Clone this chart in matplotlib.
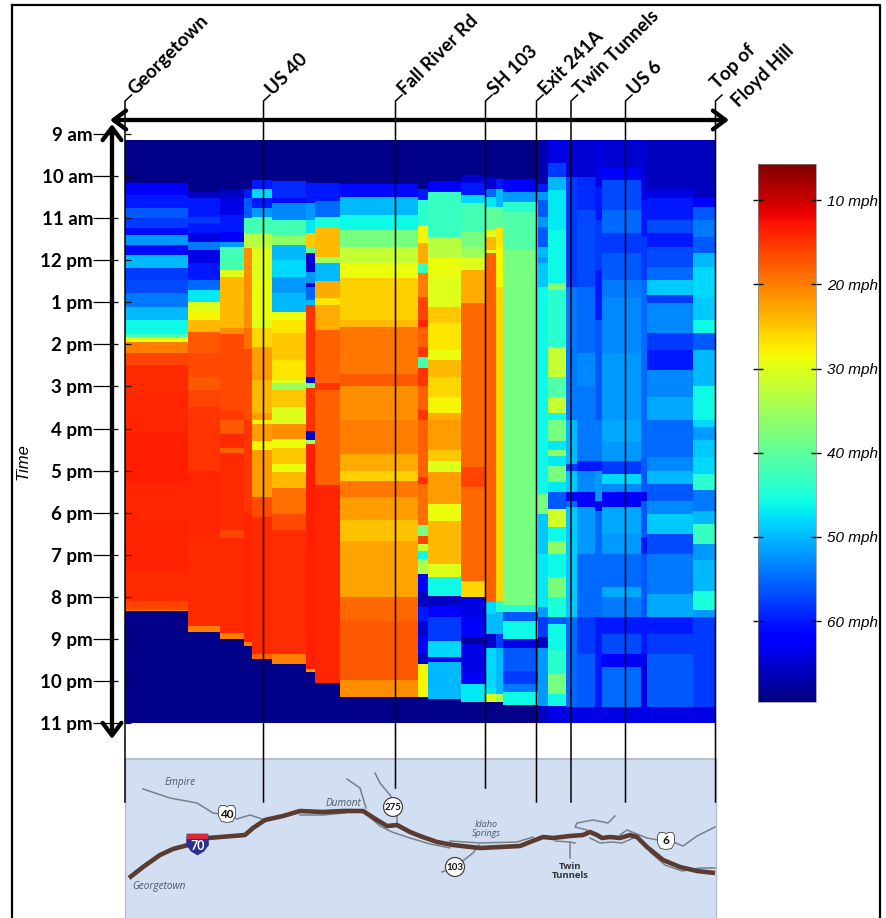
import matplotlib
matplotlib.use("Agg")
import matplotlib.pyplot as plt
import numpy as np
from matplotlib.patches import Polygon, Circle, Rectangle

W, H = 886, 918
SPEED_MIN, SPEED_MAX = 5.7, 69.6
T0 = 9.15
T1 = 23.0

# Segment edges along the corridor (same units as the picture width of the heat map)
segment_edges = [0, 63, 95, 119, 127, 147, 181, 190, 215, 293, 303, 336, 360, 371, 378,
                 413, 423, 441, 452, 470, 477, 516, 522, 568, 591]

# Each segment: start hour of every run and its speed in mph
c00_t = [T0,10.17,10.45,10.77,11.0,11.24,11.4,11.64,11.88,12.19,12.47,12.79,13.1,13.42,13.75,13.82,13.94,14.2,14.5,15.2,16.1,17.3,18.2,19.4,20.1,20.3,20.33]
c00_v = [69,62,60,56,58,61,52,61,50,58,57,54,50,46,42,29,20,16,14.2,14,13.6,14,13.7,14.2,16,20,69]
c01_t = [T0,10.37,10.53,10.97,11.12,11.36,11.56,11.76,12.07,12.47,12.7,13.0,13.22,13.42,13.7,14.2,14.77,15.08,15.48,17.0,18.5,20.69,20.82]
c01_v = [69,66,60,58,60,64,54,64,60,55,47,30,28,24,17.5,16.5,17.5,16,15,14,14.3,20,69]
c02_t = [T0,10.33,10.53,10.93,11.33,11.56,11.68,12.24,12.4,13.6,13.75,15.55,15.8,16.13,16.45,16.57,18.4,18.6,20.85,21.0]
c02_v = [69,66,64,60,63,52,42,30,24,21,16.5,15.5,17.5,14.2,18,14.2,16,14.2,20,69]
c03_t = [T0,10.3,10.53,11.0,11.35,11.7,13.6,14.1,15.8,18.0,21.08,21.16]
c03_v = [69,60,56,42,33,21,19,16.5,15,14,20,69]
c04_t = [T0,10.1,10.3,10.53,10.77,10.97,11.36,11.68,12.47,13.42,13.62,14.05,14.85,15.64,15.8,15.9,16.3,16.52,17.63,18.1,21.35,21.48]
c04_v = [69,60,48,60,52,42,33,30,29,30,26,22,24,22,28,22,28,22,16.5,14.2,18,69]
c05_t = [T0,10.13,10.53,10.65,11.05,11.4,11.64,12.0,12.4,12.79,13.22,13.42,13.74,14.37,14.85,14.92,15.08,15.48,15.9,16.25,16.45,16.84,17.04,17.4,18.03,18.42,21.35,21.58]
c05_v = [69,59,61,53,42,36,50,48,52,50,29,27,25,27,30,35,25,30,21,29,25,29,24,19,16.5,14.5,20,69]
c06_t = [T0,10.17,10.65,11.05,11.36,11.68,11.84,12.27,12.55,12.63,12.95,13.06,14.77,14.92,15.04,16.05,16.28,16.36,21.72,21.79]
c06_v = [69,60,52,47,25,40,65,52,65,55,50,15,65,38,15,66,35,13.5,22,69]
c07_t = [T0,10.17,10.6,10.97,11.24,11.92,12.07,12.5,12.9,13.06,13.66,14.92,15.08,17.35,22.05]
c07_v = [69,60,55,45,24,35,50,23,27,23,18,15,18,14,69]
c08_t = [T0,10.2,10.5,10.93,11.28,11.68,12.07,12.43,13.42,13.58,14.7,15.0,15.8,16.6,17.0,17.24,17.63,18.18,18.66,20.0,20.56,21.98,22.38]
c08_v = [69,61,50,46,38,32,29,25.5,24,19.5,17.5,21,20,23,25.5,19.5,22,24.5,22.5,18.5,17.5,21,69]
c09_t = [T0,10.3,10.57,11.16,11.6,12.07,12.31,12.87,13.42,13.58,14.05,14.29,14.57,15.0,15.56,15.8,17.16,17.32,18.3,18.54,18.74,18.9,19.1,19.21,19.45,19.89,20.24,20.56,20.96,21.35,21.59,22.38]
c09_v = [69,60,44,28,23,43,20,16,14,18,15,42,15,18,15,18,14.5,19,38,16,32,46,35,34,63,66,60,65,62,66,28,69]
c10_t = [T0,10.13,10.37,11.44,11.92,12.4,13.1,13.5,14.13,14.37,14.77,15.25,15.64,15.8,16.52,16.76,17.04,17.79,18.19,19.21,19.53,19.97,20.2,20.48,21.04,21.43,21.55,22.42]
c10_v = [69,62,43,33,29,30,25,27,29,24,26,28,23,22,25,30,22,29,24,30,46,66,62,58,48,62,50,69]
c11_t = [T0,9.98,10.17,10.45,10.65,11.32,11.68,11.92,12.23,13.02,16.92,17.39,19.61,20.0,20.48,20.96,21.12,21.83,22.07,22.5]
c11_v = [69,65,60,48,42,38,35,30,23,18.5,16,18.5,26,64,62,68,64,62,47,69]
c12_t = [T0,10.02,10.3,10.49,10.73,11.28,11.44,11.76,11.84,20.12,20.4,20.88,21.2,22.15,22.3,22.5]
c12_v = [69,65,55,47,40,30,24,30,18,48,50,65,48,47,30,69]
c13_t = [T0,10.06,10.3,10.73,11.24,11.68,12.63,20.1,20.36,20.88,21.2,22.3,22.5]
c13_v = [69,60,50,40,27,28,26,44,50,58,50,34,69]
c14_t = [T0,10.06,10.37,10.61,10.85,11.76,20.2,20.36,20.56,21.0,21.2,21.75,22.07,22.26,22.56]
c14_v = [69,62,52,44,41,38,44,56,46,64,56,58,54,46,69]
c15_t = [T0,10.2,10.37,10.57,10.97,11.2,11.68,11.92,12.07,12.63,17.55,18.03,18.98,20.24,20.48,20.96,21.2,22.58]
c15_v = [67,60,52,56,52,56,50,52,49,46,38,49,47,52,58,66,52,66]
c16_t = [T0,9.7,10.02,10.33,11.28,12.55,12.71,14.05,14.77,15.25,15.64,15.8,16.3,16.5,16.64,16.88,17.27,17.5,17.9,18.34,18.66,18.98,19.53,20.0,20.48,20.64,21.27,21.83,22.3,22.58]
c16_v = [64,58,50,47,46,37,44,32,41,32,46,38,47,36,47,38,47,56,31,46,36,46,38,45,56,46,44,38,46,64]
c17_t = [T0,10.02,12.63,15.8,16.84,17.0,17.5,17.71,17.87,20.48,22.62]
c17_v = [65,58,54,50,58,49,62,55,49,55,64]
c18_t = [T0,10.02,10.8,12.63,14.2,15.0,16.76,17.0,17.5,17.87,18.98,20.48,21.35,22.62]
c18_v = [65,59,57,55,53,54,60,53,62,52,55,58,56,64]
c19_t = [T0,10.25,11.05,12.23,13.42,15.8,16.76,17.0,17.71,17.95,20.48,22.62]
c19_v = [64,60,58,60,56,54,60,52,63,55,60,64]
c20_t = [T0,9.78,10.1,10.8,11.36,11.84,12.47,12.87,14.2,15.8,16.3,16.76,17.08,17.32,17.5,17.87,18.5,18.98,19.77,20.0,20.48,20.88,21.35,21.67,22.62]
c20_v = [65,62,57,55,58,56,54,53,52,51,52,58,48,53,62,51,52,55,51,54,60,57,62,55,64]
c21_t = [T0,10.1,10.57,11.44,12.47,16.68,17.5,17.71,18.58,18.98,20.48,21.35,22.62]
c21_v = [65,64,60,58,55,56,64,56,60,56,60,64,64]
c22_t = [T0,10.33,10.53,11.05,11.36,11.68,12.15,12.47,12.83,13.02,13.74,14.13,14.6,15.25,15.8,16.68,17.0,17.32,17.71,18.03,18.5,18.98,19.93,20.48,20.88,21.35,22.62]
c22_v = [66,64,60,57,60,57,55,49,58,53,58,60,53,51,55,53,50,56,53,49,57,54,51,60,58,56,64]
c23_t = [T0,10.49,10.73,11.05,11.44,11.84,12.15,12.87,13.42,13.74,14.13,15.0,15.8,15.97,16.28,16.68,17.08,17.47,17.95,18.26,18.74,19.13,19.85,20.32,20.48,22.62]
c23_v = [66,62,56,54,56,50,48,49,46,56,50,46,48,52,49,48,44,54,50,43,52,50,45,52,58,64]

segment_runs = [(c00_t,c00_v),(c01_t,c01_v),(c02_t,c02_v),(c03_t,c03_v),(c04_t,c04_v),(c05_t,c05_v),
                (c06_t,c06_v),(c07_t,c07_v),(c08_t,c08_v),(c09_t,c09_v),(c10_t,c10_v),(c11_t,c11_v),
                (c12_t,c12_v),(c13_t,c13_v),(c14_t,c14_v),(c15_t,c15_v),(c16_t,c16_v),(c17_t,c17_v),
                (c18_t,c18_v),(c19_t,c19_v),(c20_t,c20_v),(c21_t,c21_v),(c22_t,c22_v),(c23_t,c23_v)]

hour_ticks = list(range(9, 24))
hour_labels = ["9 am","10 am","11 am","12 pm","1 pm","2 pm","3 pm","4 pm","5 pm","6 pm","7 pm","8 pm","9 pm","10 pm","11 pm"]
speed_ticks = [10, 20, 30, 40, 50, 60]
speed_labels = ["10 mph","20 mph","30 mph","40 mph","50 mph","60 mph"]

stations = ["Georgetown","US 40","Fall River Rd","SH 103","Exit 241A","Twin Tunnels","US 6","Top of\nFloyd Hill"]
station_x = [125, 263.5, 395.5, 485.5, 536.5, 571, 625.5, 715.5]
station_end = [802, 802, 788, 788, 802, 802, 802, 802]

# Map geometry in picture coordinates
i70_x = [129,143,160,173,188,208,245,253,265,283,300,323,343,363,377,387,397,410,420,437,453,480,500,520,530,543,553,570,583,590,597,602,610,620,630,637,647,663,680,697,715]
i70_y = [878,867,855,849,845,838,835,828,820,816,811,812,811,811,820,826,825,832,836,842,845,848,847,846,842,837,838,836,835,832,835,838,837,838,835,837,847,860,867,871,873]
roads = [
    ([143,170,197,213,227,237,250,262],[789,798,803,813,815,819,815,819]),
    ([375,380,390,397,397],[773,783,795,807,825]),
    ([347,360,366],[779,788,808]),
    ([615,608,593,577,575,587],[816,823,820,823,827,830]),
    ([715,697,683,673,658,647,627,620],[827,836,846,842,840,838,830,835]),
    ([442,455,473,479],[872,867,853,845]),
    ([450,480,517,533],[841,843,842,837]),
    ([570,570],[843,858]),
    ([300,323,345],[815,815,813]),
    ([365,380,392,410,430,450],[813,826,832,838,844,848]),
    ([555,570,575],[841,842,843]),
    ([590,600,612,622,636],[838,843,842,843,837]),
    ([650,665,682,700,715],[852,865,871,868,868]),
]

plt.rcParams["font.family"] = ["Liberation Sans", "DejaVu Sans"]
LABEL_FONT = ["Lato", "Liberation Sans", "DejaVu Sans"]

fig = plt.figure(figsize=(W/100, H/100), dpi=100, facecolor="white")

def rect_px(x0, y0, x1, y1):
    return [x0/W, 1-y1/H, (x1-x0)/W, (y1-y0)/H]

# Heat map
ax = fig.add_axes(rect_px(125, 133.9, 716, 723.3), zorder=1)
t_edges = sorted({t for ts, _ in segment_runs for t in ts} | {T1})
t_edges = np.array(t_edges)
Z = np.zeros((len(t_edges)-1, len(segment_runs)))
for j, (ts, vs) in enumerate(segment_runs):
    idx = np.searchsorted(ts, t_edges[:-1], side="right") - 1
    Z[:, j] = np.array(vs)[idx]
mesh = ax.pcolormesh(segment_edges, t_edges, Z, cmap="jet_r", vmin=SPEED_MIN, vmax=SPEED_MAX,
                     shading="flat", antialiased=False, rasterized=True)
ax.set_xlim(0, 591)
ax.set_ylim(23, 9)
ax.set_xticks([])
ax.set_yticks(hour_ticks, hour_labels, family=LABEL_FONT, fontweight="bold", fontsize=13.5)
ax.tick_params(axis="y", direction="in", length=4, width=0.9, pad=23, color="#111111", left=True)
for s in ax.spines.values():
    s.set_visible(False)
ytr = ax.get_yaxis_transform()
for h in hour_ticks:
    ax.plot([-32/591, -7/591], [h, h], transform=ytr, color="black", lw=0.9, clip_on=False, solid_capstyle="butt")

# Colour bar
cax = fig.add_axes(rect_px(758, 164, 816, 702), zorder=1)
cb = fig.colorbar(mesh, cax=cax, orientation="vertical")
cb.ax.invert_yaxis()
cb.set_ticks(speed_ticks)
cb.set_ticklabels(speed_labels)
cb.ax.tick_params(axis="y", which="both", left=True, right=True, direction="inout", length=6.5, width=1, pad=5, labelsize=11)
for lab in cb.ax.get_yticklabels():
    lab.set_fontstyle("italic")
cb.outline.set_linewidth(0.5)
cb.outline.set_edgecolor("#888888")

# Overlay in picture coordinates
ov = fig.add_axes([0, 0, 1, 1], zorder=3)
ov.set_xlim(0, W); ov.set_ylim(H, 0); ov.axis("off"); ov.patch.set_alpha(0)

# Frame
ov.plot([12.5, 12.5], [5, H], color="black", lw=1.6)
ov.plot([12.5, 880, 880], [5, 5, H], color="black", lw=1.6)

# Map panel
ov.add_patch(Rectangle((125, 759), 591, 159, facecolor="#d2dff2", edgecolor="none", zorder=1))
ov.plot([125, 716], [759, 759], color="#b3bfcf", lw=1.5, zorder=1.5)
ov.plot([125, 125], [759, H], color="#b3bfcf", lw=1.0, zorder=1.5)
ov.plot([716, 716], [759, H], color="#b3bfcf", lw=1.0, zorder=1.5)
for rx, ry in roads:
    ov.plot(rx, ry, color="#76808b", lw=1.1, zorder=2, solid_joinstyle="round")
ov.plot(i70_x, i70_y, color="#5b3a2f", lw=3.3, zorder=3, solid_joinstyle="round", solid_capstyle="butt")

def us_shield(cx, cy, txt, w=17, h=17):
    pts = [(cx-w/2+2, cy-h/2), (cx-2, cy-h/2), (cx, cy-h/2+1.5), (cx+2, cy-h/2), (cx+w/2-2, cy-h/2),
           (cx+w/2, cy-h/2+3), (cx+w/2, cy+2), (cx+w/2-3, cy+h/2-1), (cx, cy+h/2), (cx-w/2+3, cy+h/2-1),
           (cx-w/2, cy+2), (cx-w/2, cy-h/2+3)]
    ov.add_patch(Polygon(pts, closed=True, facecolor="white", edgecolor="#444444", lw=0.6, zorder=4))
    ov.text(cx, cy, txt, ha="center", va="center", fontsize=8.5, fontweight="bold", family=LABEL_FONT, color="#111111", zorder=5)

def circle_shield(cx, cy, txt):
    ov.add_patch(Circle((cx, cy), 9.5, facecolor="white", edgecolor="#444444", lw=0.9, zorder=4))
    ov.text(cx, cy, txt, ha="center", va="center", fontsize=7, fontweight="bold", family=LABEL_FONT, color="#111111", zorder=5)

us_shield(227, 814, "40")
us_shield(666, 841, "6")
circle_shield(393, 807, "275")
circle_shield(455, 867, "103")
shield_pts = [(187,834),(208,834),(208.5,845),(204,851),(197.5,855),(191,851),(186.5,845)]
ov.add_patch(Polygon(shield_pts, closed=True, facecolor="#2c2f8f", edgecolor="#2c2f8f", lw=0.5, zorder=4))
ov.add_patch(Polygon([(187,834),(208,834),(208.2,839),(186.8,839)], closed=True, facecolor="#d8283a", edgecolor="none", zorder=4.5))
ov.text(197.5, 846, "70", ha="center", va="center", fontsize=9, fontweight="bold", color="white", family=LABEL_FONT, zorder=5)

map_c = "#4d5968"
ov.text(180, 783, "Empire", ha="center", va="center", fontsize=7.2, style="italic", color=map_c, family="Open Sans", zorder=5)
ov.text(159, 887, "Georgetown", ha="center", va="center", fontsize=7.2, style="italic", color=map_c, family="Open Sans", zorder=5)
ov.text(343, 803, "Dumont", ha="center", va="center", fontsize=7.2, style="italic", color=map_c, family="Open Sans", zorder=5)
ov.text(486, 829, "Idaho\nSprings", ha="center", va="center", fontsize=6.5, style="italic", color=map_c, family="Open Sans", linespacing=0.95, zorder=5)
ov.text(570, 871, "Twin\nTunnels", ha="center", va="center", fontsize=6.8, fontweight="bold", color="#333333", family="Open Sans", linespacing=1.05, zorder=5)

# Leader lines and station labels
for name, x, yend in zip(stations, station_x, station_end):
    ov.plot([x+6.5, x, x], [95, 101, yend], color="black", lw=1.1, zorder=6, solid_joinstyle="miter")
    if "\n" in name:
        first, second = name.split("\n")
        ov.text(x-2, 86, first, rotation=45, rotation_mode="anchor", ha="left", va="center", fontsize=13.5, fontweight="bold", family=LABEL_FONT, zorder=7)
        ov.text(x+19, 104, second, rotation=45, rotation_mode="anchor", ha="left", va="center", fontsize=13.5, fontweight="bold", family=LABEL_FONT, zorder=7)
    else:
        ov.text(x+6, 92, name, rotation=45, rotation_mode="anchor", ha="left", va="center", fontsize=13.5, fontweight="bold", family=LABEL_FONT, zorder=7)

# Arrows
ov.annotate("", xy=(729, 120), xytext=(110, 120), zorder=8,
            arrowprops=dict(arrowstyle="<->,head_length=0.6,head_width=0.45", lw=3.1, color="black", shrinkA=0, shrinkB=0, mutation_scale=15))
ov.annotate("", xy=(112, 739), xytext=(112, 124), zorder=8,
            arrowprops=dict(arrowstyle="<->,head_length=0.6,head_width=0.45", lw=3.1, color="black", shrinkA=0, shrinkB=0, mutation_scale=15))

ov.text(23, 462, "Time", rotation=90, ha="center", va="center", fontsize=12, style="italic", zorder=8)

fig.savefig("out.png", dpi=100, facecolor="white")
